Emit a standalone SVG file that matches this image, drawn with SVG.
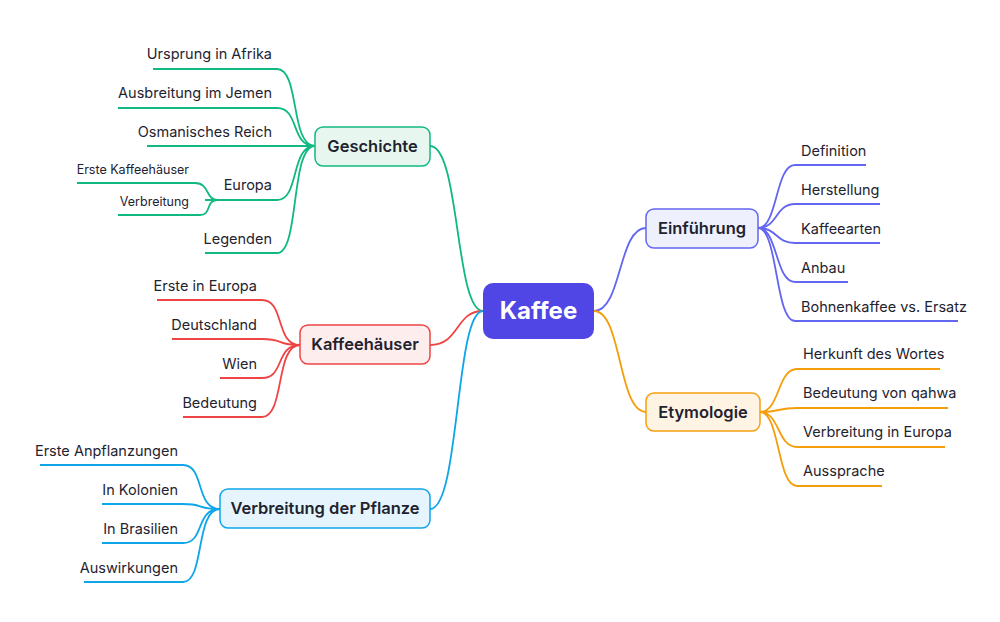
<svg xmlns="http://www.w3.org/2000/svg" width="1000" height="622" viewBox="0 0 1000 622">
<style>
text{font-family:Inter,"Liberation Sans",sans-serif;fill:#1f2330}
.l{font-size:14.5px}
.s{font-size:12.5px}
.m{font-size:16.5px;font-weight:600;text-anchor:middle}
.r{text-anchor:end}
path{fill:none;stroke-width:1.8}
.g{stroke:#10b981}.k{stroke:#ef4444}.b{stroke:#0ea5e9}.e{stroke:#6366f1}.o{stroke:#f59e0b}
</style>
<rect width="1000" height="622" fill="#fff"/>
<g id="connectors">
<path class="g" d="M483 311C455 311 460 146 430 146"/>
<path class="k" d="M483 311C455 311 460 345 430 345"/>
<path class="b" d="M483 311C455 311 460 509 430 509"/>
<path class="e" d="M594 311C622 311 618 228 646 228"/>
<path class="o" d="M594 311C622 311 618 412 646 412"/>
<path class="g" d="M315 146C290 146 300 69 277 69H153M315 146C290 146 300 108 277 108H118M315 146H147M315 146C290 146 300 200 277 200H205M315 146C290 146 300 253 277 253H205M218 200C205 200 210 183 195 183H77M218 200C205 200 212 215 200 215H118"/>
<path class="k" d="M300 345C275 345 285 300 262 300H157M300 345C275 345 285 339 262 339H172M300 345C275 345 285 378 262 378H220M300 345C275 345 285 417 262 417H183"/>
<path class="b" d="M220 509C195 509 205 465 183 465H40M220 509C195 509 205 504 183 504H102M220 509C195 509 205 543 183 543H102M220 509C195 509 205 582 183 582H84"/>
<path class="e" d="M758 228C778 228 775 165 795 165H866M758 228C778 228 775 204 795 204H880M758 228C778 228 775 243 795 243H880M758 228C778 228 775 282 795 282H848M758 228C778 228 775 321 795 321H958"/>
<path class="o" d="M760 412C780 412 777 369 797 369H940M760 412C780 412 777 408 797 408H948M760 412C780 412 777 447 797 447H945M760 412C780 412 777 486 797 486H882"/>
</g>
<g id="kaffee"><rect x="483" y="283" width="111" height="56" rx="10" fill="#4f46e5"/><text x="538.5" y="319" style="font-size:24px;font-weight:700;text-anchor:middle;fill:#fff">Kaffee</text></g>
<g id="einfuehrung"><rect x="646" y="209" width="112" height="39" rx="8" fill="#eef0fd" stroke="#6366f1" stroke-width="1.5"/><text class="m" x="702" y="234">Einführung</text></g>
<g id="etymologie"><rect x="646" y="393" width="114" height="38" rx="8" fill="#fff4e4" stroke="#f59e0b" stroke-width="1.5"/><text class="m" x="703" y="418">Etymologie</text></g>
<g id="geschichte"><rect x="315" y="127" width="115" height="39" rx="8" fill="#e7f7f0" stroke="#10b981" stroke-width="1.5"/><text class="m" x="372.5" y="152">Geschichte</text></g>
<g id="kaffeehaeuser"><rect x="300" y="325" width="130" height="39" rx="8" fill="#fdeded" stroke="#ef4444" stroke-width="1.5"/><text class="m" x="365" y="350">Kaffeehäuser</text></g>
<g id="verbreitung"><rect x="220" y="489" width="210" height="39" rx="8" fill="#e6f5fd" stroke="#0ea5e9" stroke-width="1.5"/><text class="m" x="325" y="514">Verbreitung der Pflanze</text></g>
<g id="g-leaves">
<text class="l r" x="272" y="59">Ursprung in Afrika</text>
<text class="l r" x="272" y="98">Ausbreitung im Jemen</text>
<text class="l r" x="272" y="137">Osmanisches Reich</text>
<text class="l r" x="272" y="190">Europa</text>
<text class="l r" x="272" y="244">Legenden</text>
<text class="s r" x="189" y="174">Erste Kaffeehäuser</text>
<text class="s r" x="189" y="206">Verbreitung</text>
</g>
<g id="k-leaves">
<text class="l r" x="257" y="291">Erste in Europa</text>
<text class="l r" x="257" y="330">Deutschland</text>
<text class="l r" x="257" y="369">Wien</text>
<text class="l r" x="257" y="408">Bedeutung</text>
</g>
<g id="b-leaves">
<text class="l r" x="178" y="456">Erste Anpflanzungen</text>
<text class="l r" x="178" y="495">In Kolonien</text>
<text class="l r" x="178" y="534">In Brasilien</text>
<text class="l r" x="178" y="573">Auswirkungen</text>
</g>
<g id="e-leaves">
<text class="l" x="801" y="156">Definition</text>
<text class="l" x="801" y="195">Herstellung</text>
<text class="l" x="801" y="234">Kaffeearten</text>
<text class="l" x="801" y="273">Anbau</text>
<text class="l" x="801" y="312">Bohnenkaffee vs. Ersatz</text>
</g>
<g id="o-leaves">
<text class="l" x="803" y="359">Herkunft des Wortes</text>
<text class="l" x="803" y="398">Bedeutung von qahwa</text>
<text class="l" x="803" y="437">Verbreitung in Europa</text>
<text class="l" x="803" y="476">Aussprache</text>
</g>
</svg>
